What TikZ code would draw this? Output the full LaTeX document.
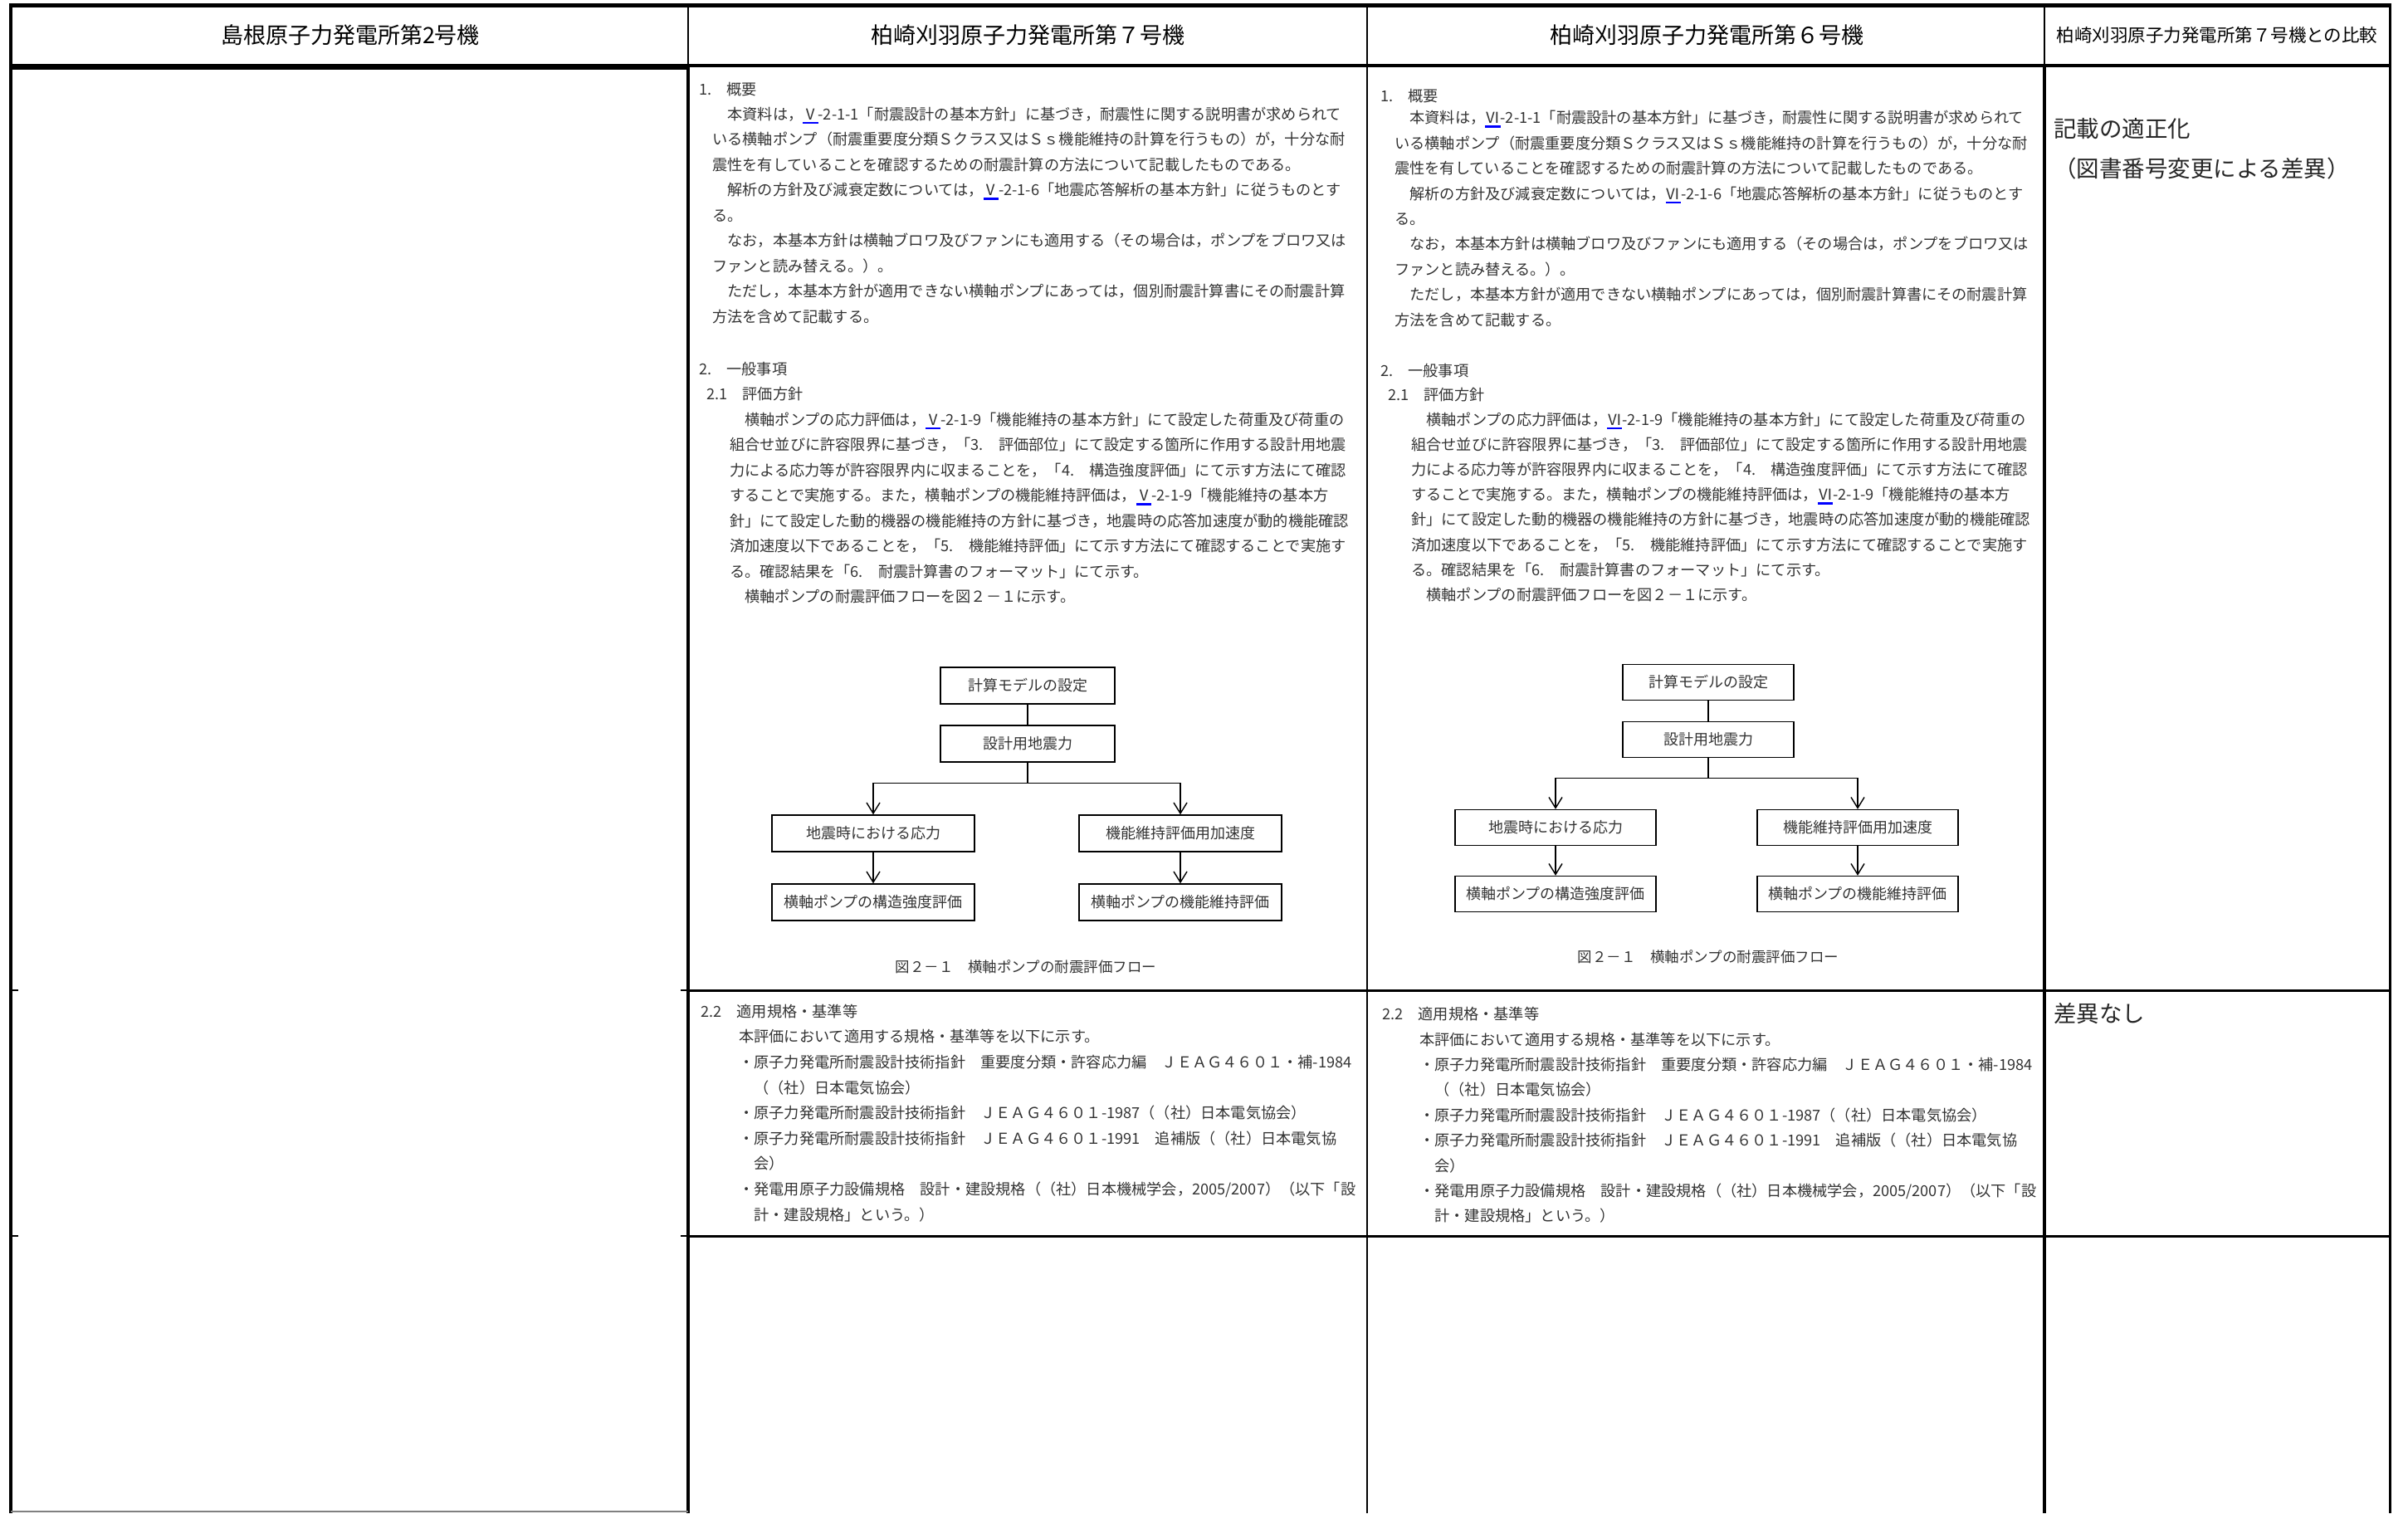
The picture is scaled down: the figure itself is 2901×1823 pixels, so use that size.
\documentclass[tikz,border=0pt]{standalone}
\usepackage{fontspec}
\setmainfont{Noto Sans CJK JP}
\usepackage{tikz}
\usetikzlibrary{arrows.meta}

\newcommand\bodyfont{\fontsize{18.2}{30.5}\selectfont}
\newcommand\headfont{\fontsize{27}{32}\selectfont}
\newcommand\notefont{\fontsize{27.5}{48}\selectfont}
% roman numeral with the blue underline
\newcommand\vnum[1]{\setbox0=\hbox{#1}\rlap{\textcolor{blue}{\rule[-5pt]{\wd0}{2.5pt}}}\box0}

\tikzset{
	heavy/.style={line width=4pt},
	ruled/.style={line width=3pt},
	hair/.style={line width=1.5pt},
	head/.style={inner sep=0pt, font=\headfont},
	% base of a block = baseline of its last line
	txt/.style={anchor=base west, inner sep=0pt, align=left, font=\bodyfont, text=black!80},
	note/.style={anchor=base west, inner sep=0pt, align=left, font=\notefont, text=black!85},
	flowbox/.style={draw, line width=1.4pt, minimum height=44pt, inner sep=0pt, font=\fontsize{18}{20}\selectfont, text=black!80},
	flowline/.style={line width=1.4pt},
	flowarrow/.style={line width=1.4pt, -{Straight Barb[length=13pt, width=16pt]}},
	figcap/.style={inner sep=0pt, font=\fontsize{17.5}{20}\selectfont, text=black!80},
}

\begin{document}
\begin{tikzpicture}[x=1pt, y=-1pt]
	\useasboundingbox (0,0) rectangle (2901,1823);

	% table
	\draw[line width=5pt] (11,6) -- (2881,6);
	\draw[heavy] (13,79) -- (2879,79);
	\draw[line width=7pt] (13,80) -- (829,80);
	\draw[heavy] (13,4) -- (13,1823);
	\draw[hair] (829,6) -- (829,79);
	\draw[line width=4.5pt] (829,79) -- (829,1823);
	\draw[line width=2pt] (1647,6) -- (1647,1823);
	\draw[hair] (2463,6) -- (2463,79);
	\draw[heavy] (2463,79) -- (2463,1823);
	\draw[ruled] (2879,4) -- (2879,1823);
	\draw[ruled] (829,1193) -- (2879,1193);
	\draw[ruled] (829,1489) -- (2879,1489);
	\draw[hair] (13,1193) -- (22,1193) (820,1193) -- (829,1193);
	\draw[hair] (13,1489) -- (22,1489) (820,1489) -- (829,1489);
	\draw[hair, gray] (13,1821) -- (829,1821);

	% header
	\node[head] (hshimane) at (422,42) {島根原子力発電所第2号機};
	\node[head] (hkk7) at (1238,42) {柏崎刈羽原子力発電所第７号機};
	\node[head] (hkk6) at (2056,42) {柏崎刈羽原子力発電所第６号機};
	\node[head, font=\fontsize{21.5}{24}\selectfont] (hcomp) at (2671,42) {柏崎刈羽原子力発電所第７号機との比較};

	% KK7
	\node[txt] (k7sec1) at (842,114) {1.　概要};
	\node[txt] (k7outline) at (858,388) {　本資料は，\vnum{Ⅴ}-2-1-1「耐震設計の基本方針」に基づき，耐震性に関する説明書が求められて\\
いる横軸ポンプ（耐震重要度分類Ｓクラス又はＳｓ機能維持の計算を行うもの）が，十分な耐\\
震性を有していることを確認するための耐震計算の方法について記載したものである。\\
　解析の方針及び減衰定数については，\vnum{Ⅴ}-2-1-6「地震応答解析の基本方針」に従うものとす\\
る。\\
　なお，本基本方針は横軸ブロワ及びファンにも適用する（その場合は，ポンプをブロワ又は\\
ファンと読み替える。）。\\
　ただし，本基本方針が適用できない横軸ポンプにあっては，個別耐震計算書にその耐震計算\\
方法を含めて記載する。};
	\node[txt] (k7sec2) at (842,451) {2.　一般事項};
	\node[txt] (k7sec21) at (851,481) {2.1　評価方針};
	\node[txt] (k7policy) at (879,725.5) {　横軸ポンプの応力評価は，\vnum{Ⅴ}-2-1-9「機能維持の基本方針」にて設定した荷重及び荷重の\\
組合せ並びに許容限界に基づき，「3.　評価部位」にて設定する箇所に作用する設計用地震\\
力による応力等が許容限界内に収まることを，「4.　構造強度評価」にて示す方法にて確認\\
することで実施する。また，横軸ポンプの機能維持評価は，\vnum{Ⅴ}-2-1-9「機能維持の基本方\\
針」にて設定した動的機器の機能維持の方針に基づき，地震時の応答加速度が動的機能確認\\
済加速度以下であることを，「5.　機能維持評価」にて示す方法にて確認することで実施す\\
る。確認結果を「6.　耐震計算書のフォーマット」にて示す。\\
　横軸ポンプの耐震評価フローを図２－１に示す。};

	\node[flowbox, minimum width=210pt] (k7model) at (1238,826) {計算モデルの設定};
	\node[flowbox, minimum width=210pt] (k7force) at (1238,896) {設計用地震力};
	\node[flowbox, minimum width=244pt] (k7stress) at (1052,1004) {地震時における応力};
	\node[flowbox, minimum width=244pt] (k7accel) at (1422,1004) {機能維持評価用加速度};
	\node[flowbox, minimum width=244pt] (k7strength) at (1052,1087) {横軸ポンプの構造強度評価};
	\node[flowbox, minimum width=244pt] (k7function) at (1422,1087) {横軸ポンプの機能維持評価};
	\draw[flowline] (k7model) -- (k7force);
	\draw[flowline] (k7force.south) -- ++(0,25) coordinate (k7split);
	\draw[flowarrow] (k7split) -| (k7stress.north);
	\draw[flowarrow] (k7split) -| (k7accel.north);
	\draw[flowarrow] (k7stress) -- (k7strength);
	\draw[flowarrow] (k7accel) -- (k7function);
	\node[figcap] (k7cap) at (1236,1165) {図２－１　横軸ポンプの耐震評価フロー};

	\node[txt] (k7sec22) at (844,1225) {2.2　適用規格・基準等};
	\node[txt, font=\fontsize{18.2}{30.6}\selectfont] (k7codes) at (890,1470) {本評価において適用する規格・基準等を以下に示す。\\
・原子力発電所耐震設計技術指針　重要度分類・許容応力編　ＪＥＡＧ４６０１・補-1984\\
　（（社）日本電気協会）\\
・原子力発電所耐震設計技術指針　ＪＥＡＧ４６０１-1987（（社）日本電気協会）\\
・原子力発電所耐震設計技術指針　ＪＥＡＧ４６０１-1991　追補版（（社）日本電気協\\
　会）\\
・発電用原子力設備規格　設計・建設規格（（社）日本機械学会，2005/2007）（以下「設\\
　計・建設規格」という。）};

	% KK6
	\node[txt] (k6sec1) at (1663,122) {1.　概要};
	\node[txt, font=\fontsize{18.2}{30.4}\selectfont] (k6outline) at (1680,392) {　本資料は，\vnum{Ⅵ}-2-1-1「耐震設計の基本方針」に基づき，耐震性に関する説明書が求められて\\
いる横軸ポンプ（耐震重要度分類Ｓクラス又はＳｓ機能維持の計算を行うもの）が，十分な耐\\
震性を有していることを確認するための耐震計算の方法について記載したものである。\\
　解析の方針及び減衰定数については，\vnum{Ⅵ}-2-1-6「地震応答解析の基本方針」に従うものとす\\
る。\\
　なお，本基本方針は横軸ブロワ及びファンにも適用する（その場合は，ポンプをブロワ又は\\
ファンと読み替える。）。\\
　ただし，本基本方針が適用できない横軸ポンプにあっては，個別耐震計算書にその耐震計算\\
方法を含めて記載する。};
	\node[txt] (k6sec2) at (1663,453) {2.　一般事項};
	\node[txt] (k6sec21) at (1672,482) {2.1　評価方針};
	\node[txt, font=\fontsize{18.2}{30.2}\selectfont] (k6policy) at (1700,723.4) {　横軸ポンプの応力評価は，\vnum{Ⅵ}-2-1-9「機能維持の基本方針」にて設定した荷重及び荷重の\\
組合せ並びに許容限界に基づき，「3.　評価部位」にて設定する箇所に作用する設計用地震\\
力による応力等が許容限界内に収まることを，「4.　構造強度評価」にて示す方法にて確認\\
することで実施する。また，横軸ポンプの機能維持評価は，\vnum{Ⅵ}-2-1-9「機能維持の基本方\\
針」にて設定した動的機器の機能維持の方針に基づき，地震時の応答加速度が動的機能確認\\
済加速度以下であることを，「5.　機能維持評価」にて示す方法にて確認することで実施す\\
る。確認結果を「6.　耐震計算書のフォーマット」にて示す。\\
　横軸ポンプの耐震評価フローを図２－１に示す。};

	\node[flowbox, minimum width=206pt, minimum height=43pt] (k6model) at (2058,822) {計算モデルの設定};
	\node[flowbox, minimum width=206pt, minimum height=43pt] (k6force) at (2058,891) {設計用地震力};
	\node[flowbox, minimum width=242pt, minimum height=43pt] (k6stress) at (1874,997) {地震時における応力};
	\node[flowbox, minimum width=242pt, minimum height=43pt] (k6accel) at (2238,997) {機能維持評価用加速度};
	\node[flowbox, minimum width=242pt, minimum height=43pt] (k6strength) at (1874,1077) {横軸ポンプの構造強度評価};
	\node[flowbox, minimum width=242pt, minimum height=43pt] (k6function) at (2238,1077) {横軸ポンプの機能維持評価};
	\draw[flowline] (k6model) -- (k6force);
	\draw[flowline] (k6force.south) -- ++(0,24) coordinate (k6split);
	\draw[flowarrow] (k6split) -| (k6stress.north);
	\draw[flowarrow] (k6split) -| (k6accel.north);
	\draw[flowarrow] (k6stress) -- (k6strength);
	\draw[flowarrow] (k6accel) -- (k6function);
	\node[figcap] (k6cap) at (2058,1153) {図２－１　横軸ポンプの耐震評価フロー};

	\node[txt] (k6sec22) at (1665,1228) {2.2　適用規格・基準等};
	\node[txt, font=\fontsize{18.2}{30.4}\selectfont] (k6codes) at (1710,1471.8) {本評価において適用する規格・基準等を以下に示す。\\
・原子力発電所耐震設計技術指針　重要度分類・許容応力編　ＪＥＡＧ４６０１・補-1984\\
　（（社）日本電気協会）\\
・原子力発電所耐震設計技術指針　ＪＥＡＧ４６０１-1987（（社）日本電気協会）\\
・原子力発電所耐震設計技術指針　ＪＥＡＧ４６０１-1991　追補版（（社）日本電気協\\
　会）\\
・発電用原子力設備規格　設計・建設規格（（社）日本機械学会，2005/2007）（以下「設\\
　計・建設規格」という。）};

	% comparison
	\node[note] (cmpfig) at (2474,213) {記載の適正化\\（図書番号変更による差異）};
	\node[note] (cmpnone) at (2474,1231) {差異なし};
\end{tikzpicture}
\end{document}
